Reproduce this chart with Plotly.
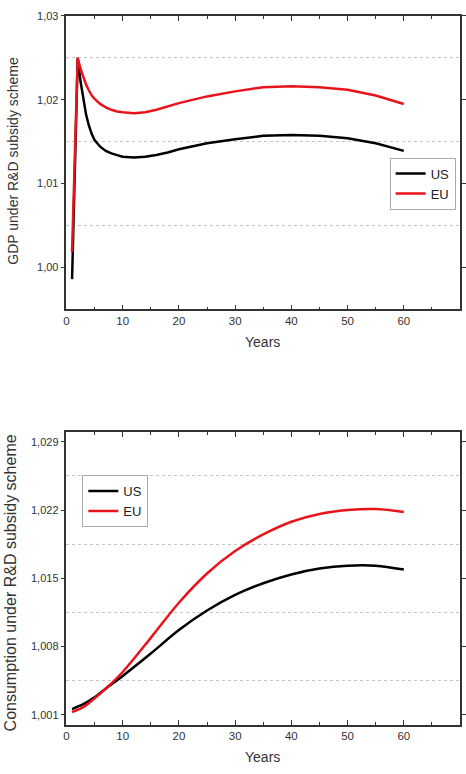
import plotly.graph_objects as go

# ---- data ----
gdp_years = [1, 2, 2.5, 3, 3.5, 4, 4.5, 5, 6, 7, 8, 9, 10, 12, 14, 16, 18, 20, 25, 30, 35, 40,
             45, 50, 55, 60]
gdp_us = [0.9986, 1.0250, 1.0222, 1.0199, 1.0182, 1.0169, 1.0159, 1.0152, 1.0144, 1.0139,
          1.0136, 1.0134, 1.0132, 1.0131, 1.0132, 1.0134, 1.0137, 1.0141, 1.0148, 1.0153,
          1.0157, 1.0158, 1.0157, 1.0154, 1.0148, 1.0139]
gdp_eu = [1.0018, 1.0250, 1.0237, 1.0226, 1.0218, 1.0211, 1.0205, 1.0201, 1.0195, 1.0191,
          1.0188, 1.0186, 1.0185, 1.0184, 1.0185, 1.0188, 1.0192, 1.0196, 1.0204, 1.0210,
          1.0215, 1.0216, 1.0215, 1.0212, 1.0205, 1.0195]

cons_years = [1, 3, 5, 7, 10, 15, 20, 25, 30, 35, 40, 45, 50, 55, 60]
cons_us = [1.0016, 1.0021, 1.0028, 1.0037, 1.0050, 1.0073, 1.0097, 1.0117, 1.0133, 1.0145,
           1.0154, 1.0160, 1.0163, 1.0163, 1.0159]
cons_eu = [1.0013, 1.0018, 1.0027, 1.0037, 1.0054, 1.0089, 1.0125, 1.0155, 1.0178, 1.0195,
           1.0208, 1.0216, 1.0220, 1.0221, 1.0218]

series_names = ["US", "EU"]
series_colors = ["#000000", "#e8141b"]

W, H = 466, 774
FONT = "Liberation Sans, Arial, sans-serif"
AX = "#333333"

fig = go.Figure()
fig.add_trace(go.Scatter(x=gdp_years, y=gdp_us, name=series_names[0], mode="lines",
                         line=dict(color=series_colors[0], width=2.5), xaxis="x", yaxis="y",
                         legend="legend"))
fig.add_trace(go.Scatter(x=gdp_years, y=gdp_eu, name=series_names[1], mode="lines",
                         line=dict(color=series_colors[1], width=2.5), xaxis="x", yaxis="y",
                         legend="legend"))
fig.add_trace(go.Scatter(x=cons_years, y=cons_us, name=series_names[0], mode="lines",
                         line=dict(color=series_colors[0], width=2.5, shape="spline",
                                   smoothing=0.9),
                         xaxis="x2", yaxis="y2", legend="legend2"))
fig.add_trace(go.Scatter(x=cons_years, y=cons_eu, name=series_names[1], mode="lines",
                         line=dict(color=series_colors[1], width=2.5, shape="spline",
                                   smoothing=0.9),
                         xaxis="x2", yaxis="y2", legend="legend2"))

xd = [64 / W, 461 / W]
y1d = [(H - 305.7) / H, (H - 10) / H]
y2d = [(H - 724.3) / H, (H - 429.3) / H]

def xaxis(anchor):
    return dict(domain=xd, anchor=anchor, range=[0, 70], tick0=0, dtick=10,
                showline=True, linecolor=AX, linewidth=1.5, mirror="allticks",
                ticks="inside", ticklen=5, tickwidth=1.2, tickcolor=AX,
                showgrid=False, zeroline=False,
                tickfont=dict(family=FONT, size=11.5, color=AX),
                minor=dict(dtick=5, tick0=0, ticks="inside", ticklen=3, tickcolor=AX,
                           showgrid=False))

def yaxis(anchor, dom, rng, t0, dt, fmt):
    return dict(domain=dom, anchor=anchor, range=rng, tick0=t0, dtick=dt, tickformat=fmt,
                showline=True, linecolor=AX, linewidth=1.5, mirror="allticks",
                ticks="outside", ticklen=4, tickwidth=1.2, tickcolor=AX,
                showgrid=False, zeroline=False,
                tickfont=dict(family=FONT, size=11, color=AX),
                minor=dict(dtick=dt / 2, tick0=t0, ticklen=0, showgrid=True,
                           gridcolor="#c4c4c4", griddash="dot", gridwidth=1))

def legend(xl, yc):
    return dict(x=xl, y=yc, xanchor="left", yanchor="middle",
                bgcolor="white", bordercolor="#aaaaaa", borderwidth=1,
                font=dict(family=FONT, size=13, color="#222"), itemwidth=30,
                tracegroupgap=0)

fig.update_layout(
    width=W, height=H,
    margin=dict(l=0, r=0, t=0, b=0),
    paper_bgcolor="white", plot_bgcolor="white",
    separators=",.",
    font=dict(family=FONT, color=AX),
    xaxis=xaxis("y"),
    yaxis=yaxis("x", y1d, [0.995, 1.03], 1.0, 0.01, ".2f"),
    xaxis2=xaxis("y2"),
    yaxis2=yaxis("x2", y2d, [1.000, 1.030], 1.001, 0.007, ".3f"),
    legend=legend(390 / W, (H - 179) / H),
    legend2=legend(80 / W, (H - 499) / H),
    annotations=[
        dict(text="GDP under R&D subsidy scheme", x=10 / W, y=(H - 156) / H,
             xref="paper", yref="paper", textangle=-90, showarrow=False,
             xanchor="center", yanchor="middle", font=dict(family=FONT, size=14, color=AX)),
        dict(text="Years", x=262 / W, y=(H - 339) / H, xref="paper", yref="paper",
             showarrow=False, xanchor="center", yanchor="middle",
             font=dict(family=FONT, size=14, color=AX)),
        dict(text="Consumption under R&D subsidy scheme", x=8 / W, y=(H - 581) / H,
             xref="paper", yref="paper", textangle=-90, showarrow=False,
             xanchor="center", yanchor="middle", font=dict(family=FONT, size=16, color=AX)),
        dict(text="Years", x=262 / W, y=(H - 757) / H, xref="paper", yref="paper",
             showarrow=False, xanchor="center", yanchor="middle",
             font=dict(family=FONT, size=14, color=AX)),
    ],
)

fig.write_html("out.html")
